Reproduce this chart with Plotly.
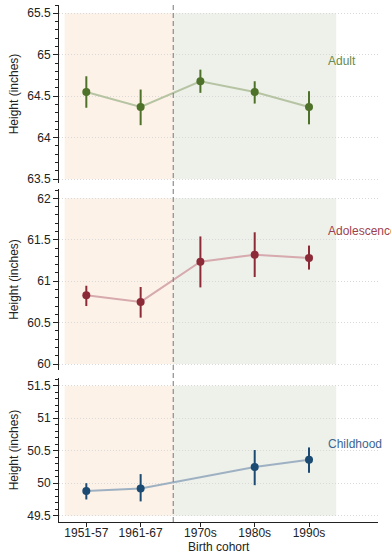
import plotly.graph_objects as go
from plotly.subplots import make_subplots

# ---- data ----
cohort_labels = ["1951-57", "1961-67", "1970s", "1980s", "1990s"]
cohort_mid = [1954, 1964, 1975, 1985, 1995]

adult = [64.55, 64.37, 64.68, 64.55, 64.37]
adult_lo = [64.36, 64.15, 64.54, 64.41, 64.16]
adult_hi = [64.74, 64.58, 64.82, 64.68, 64.56]

adol = [60.83, 60.75, 61.235, 61.32, 61.28]
adol_lo = [60.70, 60.56, 60.925, 61.05, 61.14]
adol_hi = [60.945, 60.93, 61.54, 61.59, 61.43]

child_x = [1954, 1964, 1985, 1995]
child = [49.88, 49.92, 50.25, 50.36]
child_lo = [49.75, 49.72, 49.97, 50.16]
child_hi = [50.00, 50.14, 50.51, 50.55]

panel_names = ["Adult", "Adolescence", "Childhood"]
panel_label_y = [64.92, 61.6, 50.61]
panel_tick_range = [(63.5, 65.5), (60.0, 62.0), (49.5, 51.5)]
panel_axis_range = [(63.452, 65.6), (59.928, 62.112), (49.403, 51.618)]

# ---- styles ----
FONT = "Liberation Sans, Arial, Helvetica, sans-serif"
mark_colors = ["#4e7229", "#8c2a38", "#1b4a72"]
line_colors = ["#b6c4a3", "#d6aaae", "#9eb1c3"]
text_colors = ["#6a8a4a", "#9e3f4e", "#3d6590"]
shade_pre = "#fdf2e7"
shade_post = "#eef1ea"

fig = make_subplots(rows=3, cols=1, shared_xaxes=True, vertical_spacing=0.02)

series = [
    (cohort_mid, adult, adult_lo, adult_hi),
    (cohort_mid, adol, adol_lo, adol_hi),
    (child_x, child, child_lo, child_hi),
]

for i, (xs, ys, lo, hi) in enumerate(series):
    r = i + 1
    fig.add_trace(go.Scatter(x=xs, y=ys, mode="lines",
                             line=dict(color=line_colors[i], width=2),
                             hoverinfo="skip", showlegend=False), row=r, col=1)
    fig.add_trace(go.Scatter(
        x=xs, y=ys, mode="markers",
        marker=dict(color=mark_colors[i], size=8),
        error_y=dict(type="data", symmetric=False,
                     array=[h - y for h, y in zip(hi, ys)],
                     arrayminus=[y - l for y, l in zip(ys, lo)],
                     color=mark_colors[i], thickness=2, width=0),
        showlegend=False), row=r, col=1)

# panel domains (paper units), margin t=5 b=31 -> plot height 517
domains = [[0.6557, 1.0], [0.294, 0.644], [0.0, 0.2785]]
for i in range(3):
    yname = "yaxis" if i == 0 else f"yaxis{i+1}"
    fig.layout[yname].update(
        domain=domains[i], range=list(panel_axis_range[i]), automargin=False,
        dtick=0.5, tick0=0, ticks="outside", ticklen=5, tickcolor="#222",
        showline=True, linecolor="#222", linewidth=1,
        showgrid=True, gridcolor="#d9d9d9", griddash="1px,2px", gridwidth=1,
        zeroline=False,
        minor=dict(dtick=0.1, tick0=0, ticks="outside", ticklen=3,
                   tickcolor="#222", showgrid=False),
        tickfont=dict(size=12, color="#222", family=FONT),
        title=dict(text="Height (inches)", font=dict(size=12, color="#222", family=FONT),
                   standoff=6),
    )
    yref = "y" if i == 0 else f"y{i+1}"
    xref = "x" if i == 0 else f"x{i+1}"
    lo_t, hi_t = panel_tick_range[i]
    fig.add_shape(type="rect", xref=xref, yref=yref, x0=1950, x1=1970, y0=lo_t, y1=hi_t,
                  fillcolor=shade_pre, line=dict(width=0), layer="below")
    fig.add_shape(type="rect", xref=xref, yref=yref, x0=1970, x1=2000, y0=lo_t, y1=hi_t,
                  fillcolor=shade_post, line=dict(width=0), layer="below")
    fig.add_annotation(x=1998.1, y=panel_label_y[i], xref=xref, yref=yref,
                       text=panel_names[i], showarrow=False, xanchor="left",
                       font=dict(size=12, color=text_colors[i], family=FONT))

for i in range(3):
    xname = "xaxis" if i == 0 else f"xaxis{i+1}"
    fig.layout[xname].update(range=[1948.97, 2007.7], showgrid=False, zeroline=False,
                             automargin=False)
    if i < 2:
        fig.layout[xname].update(showticklabels=False, ticks="", showline=False)

fig.update_layout(xaxis3=dict(
    tickvals=cohort_mid, ticktext=cohort_labels, ticks="outside", ticklen=4,
    ticklabelstandoff=-4,
    tickcolor="#222", showline=True, linecolor="#222", linewidth=1,
    tickfont=dict(size=12, color="#222", family=FONT),
))

# x-axis title
fig.add_annotation(text="Birth cohort", xref="x3", yref="paper", x=(1948.97 + 2007.7) / 2,
                   y=-0.048, yanchor="middle", showarrow=False,
                   font=dict(size=12, color="#222", family=FONT))

# dashed vertical separator across all panels
fig.add_shape(type="line", xref="x3", yref="paper", x0=1970, x1=1970, y0=0, y1=1.0,
              line=dict(color="#777777", width=1, dash="5px,3px"))

fig.update_layout(
    width=391, height=553,
    margin=dict(l=59, r=13, t=5, b=31),
    paper_bgcolor="white", plot_bgcolor="rgba(0,0,0,0)",
    font=dict(family=FONT, size=12, color="#222"),
)

fig.write_html("out.html")
